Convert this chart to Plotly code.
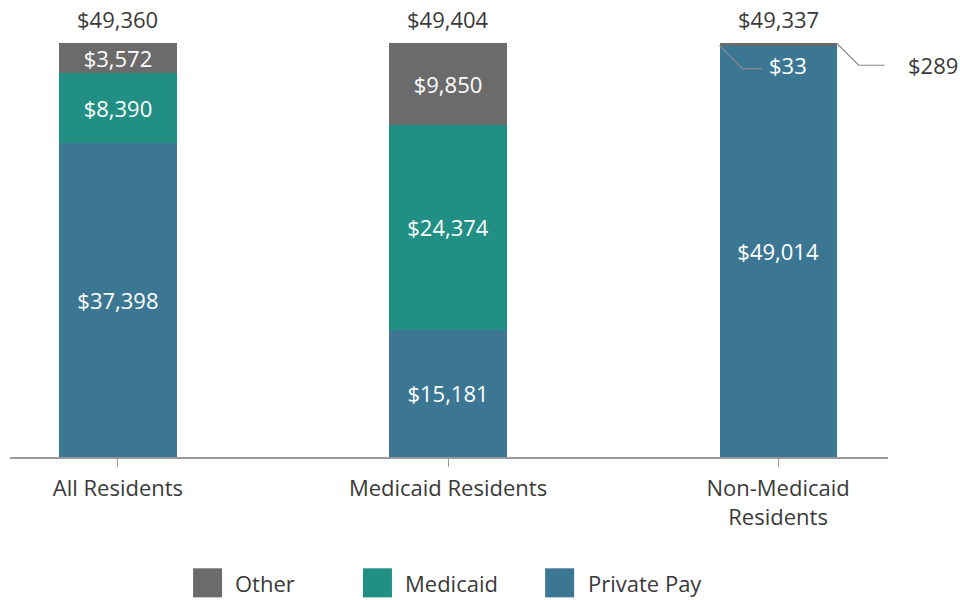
import plotly.graph_objects as go

categories = ["All Residents", "Medicaid Residents", "Non-Medicaid<br>Residents"]
private_pay = [37398, 15181, 49014]
medicaid = [8390, 24374, 33]
other = [3572, 9850, 289]
totals = [49360, 49404, 49337]

colors = {"Other": "#6b6b6b", "Medicaid": "#218f83", "Private Pay": "#3b7793"}
dark = "#3a3a3a"
font = "Open Sans"
fs = 22


def money(v):
    return f"${v:,}"


x = list(range(len(categories)))
bar_w = 0.355

fig = go.Figure()
series = [("Private Pay", private_pay), ("Medicaid", medicaid), ("Other", other)]
for name, vals in series:
    # tiny segments of the last bar get callouts instead of inside text
    txt = [money(v) if v > 1000 else "" for v in vals]
    fig.add_trace(go.Bar(
        x=x, y=vals, name=name, width=bar_w,
        marker=dict(color=colors[name], line_width=0),
        text=txt, textposition="inside", insidetextanchor="middle",
        textfont=dict(color="white", size=fs, family=font),
        constraintext="none", hoverinfo="skip", showlegend=False,
    ))

for i, t in enumerate(totals):
    fig.add_annotation(x=i, y=t, text=money(t), showarrow=False,
                       yanchor="bottom", yshift=7,
                       font=dict(size=fs, color=dark, family=font))

# callouts for the tiny Medicaid / Other segments on the last bar
last = len(categories) - 1
top = totals[last]
fig.add_shape(type="path", xref="x", yref="y",
              xsizemode="pixel", ysizemode="pixel",
              xanchor=last - bar_w / 2, yanchor=private_pay[last] + medicaid[last],
              path="M0,0 L23,-23 L43,-23",
              line=dict(color="#8a8a8a", width=1.2))
fig.add_annotation(x=last, y=top, text=money(medicaid[last]), showarrow=False,
                   xshift=10, yshift=-22,
                   font=dict(size=fs, color="white", family=font))
fig.add_shape(type="path", xref="x", yref="y",
              xsizemode="pixel", ysizemode="pixel",
              xanchor=last + bar_w / 2, yanchor=top,
              path="M0,0 L22,-22 L48,-22",
              line=dict(color="#8a8a8a", width=1.2))
fig.add_annotation(x=last + bar_w / 2, y=top, text=money(other[last]), showarrow=False,
                   xshift=96, yshift=-22,
                   font=dict(size=fs, color=dark, family=font))

# legend drawn by hand to get the large square swatches
legend_items = ["Other", "Medicaid", "Private Pay"]
legend_x = [0.2085, 0.402, 0.6095]  # swatch left edges, paper fraction
sw = 29 / 878
for name, lx in zip(legend_items, legend_x):
    fig.add_shape(type="rect", xref="paper", yref="paper",
                  x0=lx, x1=lx + sw, y0=-0.314, y1=-0.249,
                  fillcolor=colors[name], line_width=0)
    fig.add_annotation(xref="paper", yref="paper", x=lx + sw + 0.013, y=-0.282,
                       xanchor="left", yanchor="middle", showarrow=False,
                       text=name, font=dict(size=fs, color=dark, family=font))

fig.update_layout(
    width=960, height=600,
    barmode="stack",
    plot_bgcolor="white", paper_bgcolor="white",
    margin=dict(l=10, r=72, t=10, b=143),
    font=dict(family=font, size=fs, color=dark),
    showlegend=False,
)
fig.update_xaxes(
    tickvals=x, ticktext=categories, range=[-0.327, 2.333],
    showline=True, linecolor="#999999", linewidth=1.5,
    ticks="outside", ticklen=8, tickcolor="#999999", ticklabelstandoff=3,
    showgrid=False, zeroline=False,
    tickfont=dict(size=fs, color=dark, family=font),
)
fig.update_yaxes(range=[0, 53300], visible=False, showgrid=False)

fig.write_html("out.html", config={"displayModeBar": False},
               post_script="document.body.style.margin='0';")
